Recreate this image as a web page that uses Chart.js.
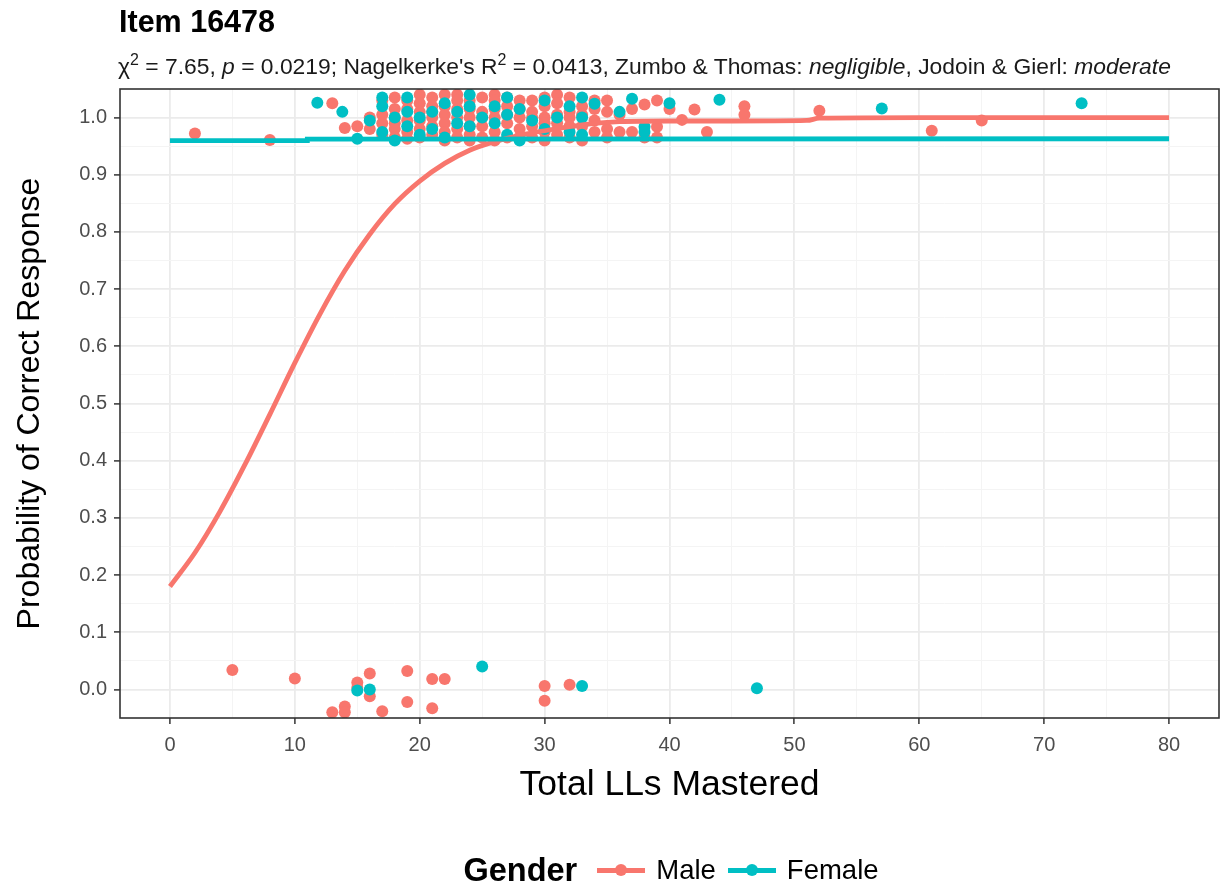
<!DOCTYPE html>
<html>
<head>
<meta charset="utf-8">
<script src="https://cdn.jsdelivr.net/npm/chart.js@4.4.1/dist/chart.umd.min.js"></script>
<style>
html,body{margin:0;padding:0;background:#fff;}
#wrap{position:relative;width:1225px;height:886px;font-family:"Liberation Sans",Arial,Helvetica,sans-serif;overflow:hidden;}
#c{position:absolute;left:0;top:0;}
#title{position:absolute;left:119px;top:4px;font-weight:bold;font-size:30.5px;color:#000;white-space:nowrap;}
#subtitle{position:absolute;left:118px;top:53px;font-size:22.85px;color:#1a1a1a;white-space:nowrap;}
#subtitle sup{font-size:0.7em;line-height:0;vertical-align:0.55em;}
#legend{position:absolute;left:126px;width:1102px;top:850px;height:40px;display:flex;justify-content:center;align-items:center;color:#000;}
#legend .ltitle{font-weight:bold;font-size:32.5px;margin-right:20px;}
#legend .key{position:relative;width:48px;height:24px;margin-right:11px;}
#legend .key .ln{position:absolute;left:0;right:0;top:10px;height:5px;}
#legend .key .dt{position:absolute;left:18px;top:6px;width:12px;height:12px;border-radius:50%;}
#legend .lab{font-size:27.5px;margin-right:12px;}
</style>
</head>
<body>
<div id="wrap">
  <canvas id="c" width="1225" height="886"></canvas>
  <div id="title">Item 16478</div>
  <div id="subtitle">χ<sup>2</sup> = 7.65, <i>p</i> = 0.0219; Nagelkerke's R<sup>2</sup> = 0.0413, Zumbo &amp; Thomas: <i>negligible</i>, Jodoin &amp; Gierl: <i>moderate</i></div>
  <div id="legend"></div>
</div>
<script>
// ---------- data ----------
const seriesNames = ['Male', 'Female'];
const seriesColors = ['#F8766D', '#00BFC4'];

const xTickLabels = ['0','10','20','30','40','50','60','70','80'];
const yTickLabels = ['0.0','0.1','0.2','0.3','0.4','0.5','0.6','0.7','0.8','0.9','1.0'];

// fitted probability curve, male
const maleCurveX = [0,2,4,6,8,10,12,14,16,18,20,22,24,26,28,30,32,34,36,40,45,51,52,60,70,80];
const maleCurveY = [0.180,0.239,0.311,0.393,0.481,0.571,0.656,0.732,0.796,0.849,0.889,0.920,0.943,0.958,0.969,0.977,0.984,0.990,0.993,0.994,0.994,0.995,0.999,1.000,1.000,1.000];
// fitted probability curve, female
const femaleCurveX = [0, 11, 11, 80];
const femaleCurveY = [0.9597, 0.9597, 0.9625, 0.963];

// jittered observed responses, male
const malePoints = [
  [2,0.972],[8,0.961],[13,1.025],[14,0.982],[15,0.985],[16,0.98],[16,1.0],[17,1.03],[17,1.005],[17,0.99],[17,0.97],
  [18,1.035],[18,1.015],[18,1.0],[18,0.99],[18,0.98],[18,0.965],
  [19,1.03],[19,1.015],[19,0.995],[19,0.975],[19,0.963],
  [20,1.04],[20,1.025],[20,1.01],[20,0.995],[20,0.98],[20,0.965],
  [21,1.035],[21,1.02],[21,1.01],[21,1.0],[21,0.985],[21,0.97],
  [22,1.04],[22,1.02],[22,1.005],[22,0.99],[22,0.975],[22,0.96],
  [23,1.04],[23,1.03],[23,1.015],[23,1.0],[23,0.98],[23,0.965],
  [24,1.03],[24,1.015],[24,1.0],[24,0.985],[24,0.97],[24,0.96],
  [25,1.035],[25,1.01],[25,1.0],[25,0.985],[25,0.965],
  [26,1.04],[26,1.03],[26,1.015],[26,1.0],[26,0.975],[26,0.96],
  [27,1.035],[27,1.02],[27,1.005],[27,0.99],[27,0.965],
  [28,1.03],[28,1.015],[28,1.0],[28,0.98],[28,0.965],
  [29,1.03],[29,1.01],[29,1.0],[29,0.985],[29,0.965],
  [30,1.035],[30,1.02],[30,1.0],[30,0.99],[30,0.975],[30,0.96],
  [31,1.04],[31,1.025],[31,1.005],[31,0.99],[31,0.97],
  [32,1.035],[32,1.01],[32,1.0],[32,0.985],[32,0.965],
  [33,1.02],[33,1.005],[33,0.985],[33,0.96],
  [34,1.03],[34,1.015],[34,0.995],[34,0.975],
  [35,1.03],[35,1.01],[35,0.98],[35,0.965],
  [36,1.005],[36,0.975],[37,1.015],[37,0.975],[38,1.023],[38,0.965],
  [39,1.03],[39,0.984],[39,0.965],[40,1.015],
  [41,0.996],[42,1.014],[43,0.975],[46,1.02],[46,1.005],[52,1.012],[61,0.977],[65,0.995],
  [5,0.034],[10,0.019],[15,0.012],[15,0.003],[16,0.028],[16,-0.012],[13,-0.04],[14,-0.03],[14,-0.04],
  [17,-0.038],[19,0.032],[19,-0.022],[21,0.018],[22,0.018],[21,-0.033],[30,0.006],[30,-0.02],[32,0.008]
];
// jittered observed responses, female
const femalePoints = [
  [11.8,1.026],[13.8,1.01],[15,0.963],[16,0.995],[17,1.035],[17,1.02],[17,0.975],[18,1.0],[18,0.96],
  [19,1.035],[19,1.01],[19,0.985],[20,1.0],[20,0.97],[21,1.01],[21,0.98],[22,1.025],[22,0.965],
  [23,1.01],[23,0.99],[24,1.04],[24,1.02],[24,0.985],[25,1.0],[26,1.02],[26,0.99],
  [27,1.035],[27,1.005],[27,0.97],[28,1.015],[28,0.96],[29,0.995],[30,1.03],[30,0.98],[31,1.0],
  [32,1.02],[32,0.975],[33,1.035],[33,1.0],[33,0.97],[34,1.024],[36,1.01],[37,1.033],[38,0.984],[38,0.975],
  [40,1.025],[44,1.031],[57,1.016],[73,1.025],
  [15,-0.002],[16,0.0],[25,0.04],[33,0.006],[47,0.002]
];

// ---------- chart ----------
Chart.defaults.font.family = '"Liberation Sans", Arial, Helvetica, sans-serif';

function withMinor(labels) {
  const vals = labels.map(Number);
  const out = [];
  vals.forEach((v, i) => {
    out.push({ value: v, lbl: labels[i], minor: false });
    if (i < vals.length - 1) out.push({ value: (v + vals[i + 1]) / 2, lbl: '', minor: true });
  });
  return out;
}
const isMinor = c => c.tick && c.tick.minor;
function gridOpts() {
  return {
    color: c => isMinor(c) ? '#f4f4f4' : '#ebebeb',
    lineWidth: c => isMinor(c) ? 1 : 1.8,
    tickColor: c => isMinor(c) ? 'rgba(0,0,0,0)' : '#333333',
    tickWidth: 1.5,
    tickLength: 6,
    drawTicks: true
  };
}

const toXY = arr => arr.map(p => ({ x: p[0], y: p[1] }));
const curve = (xs, ys) => xs.map((x, i) => ({ x: x, y: ys[i] }));

const panelBorder = {
  id: 'panelBorder',
  afterDraw(chart) {
    const a = chart.chartArea, ctx = chart.ctx;
    ctx.save();
    ctx.strokeStyle = '#333333';
    ctx.lineWidth = 1.6;
    ctx.strokeRect(a.left, a.top, a.right - a.left, a.bottom - a.top);
    ctx.restore();
  }
};

new Chart(document.getElementById('c'), {
  type: 'scatter',
  data: {
    datasets: [
      { label: 'Female curve', data: curve(femaleCurveX, femaleCurveY), showLine: true, borderColor: seriesColors[1],
        borderWidth: 4.8, pointRadius: 0, order: 0, tension: 0 },
      { label: 'Male curve', data: curve(maleCurveX, maleCurveY), showLine: true, borderColor: seriesColors[0],
        borderWidth: 4.8, pointRadius: 0, order: 1, cubicInterpolationMode: 'monotone' },
      { label: seriesNames[1], data: toXY(femalePoints), backgroundColor: seriesColors[1], borderColor: seriesColors[1],
        borderWidth: 0, pointRadius: 6, order: 2 },
      { label: seriesNames[0], data: toXY(malePoints), backgroundColor: seriesColors[0], borderColor: seriesColors[0],
        borderWidth: 0, pointRadius: 6, order: 3 }
    ]
  },
  options: {
    responsive: false,
    animation: false,
    events: [],
    layout: { padding: { top: 89, right: 3, left: 0, bottom: 0 } },
    plugins: { legend: { display: false }, tooltip: { enabled: false }, title: { display: false } },
    scales: {
      x: {
        type: 'linear', min: -4, max: 84,
        afterBuildTicks: s => { s.ticks = withMinor(xTickLabels); },
        afterFit: s => { s.height = 168; },
        ticks: { autoSkip: false, maxRotation: 0, padding: 9, color: '#4d4d4d', font: { size: 20 },
          callback: (v, i, t) => t[i].lbl },
        grid: gridOpts(),
        border: { display: false },
        title: { display: true, text: 'Total LLs Mastered', color: '#000', font: { size: 35.5 },
          padding: { top: 0, bottom: 79 } }
      },
      y: {
        type: 'linear', min: -0.05, max: 1.05,
        afterBuildTicks: s => { s.ticks = withMinor(yTickLabels); },
        afterFit: s => { s.width = 120; },
        ticks: { autoSkip: false, padding: 7, color: '#4d4d4d', font: { size: 20 },
          callback: (v, i, t) => t[i].lbl },
        grid: gridOpts(),
        border: { display: false },
        title: { display: true, text: 'Probability of Correct Response', color: '#000', font: { size: 32 },
          padding: { top: 11, bottom: 0 } }
      }
    }
  },
  plugins: [panelBorder]
});

// ---------- legend ----------
const lg = document.getElementById('legend');
const t = document.createElement('span');
t.className = 'ltitle'; t.textContent = 'Gender';
lg.appendChild(t);
seriesNames.forEach((n, i) => {
  const k = document.createElement('div'); k.className = 'key';
  const ln = document.createElement('div'); ln.className = 'ln'; ln.style.background = seriesColors[i];
  const dt = document.createElement('div'); dt.className = 'dt'; dt.style.background = seriesColors[i];
  k.appendChild(ln); k.appendChild(dt); lg.appendChild(k);
  const l = document.createElement('span'); l.className = 'lab'; l.textContent = n;
  lg.appendChild(l);
});
</script>
</body>
</html>
